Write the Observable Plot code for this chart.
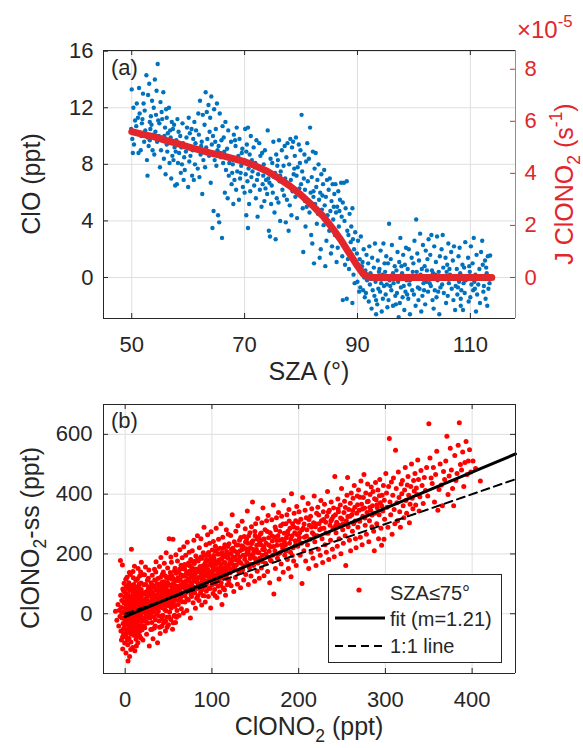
<!DOCTYPE html>
<html>
<head>
<meta charset="utf-8">
<script src="https://cdn.jsdelivr.net/npm/d3@7"></script>
<script src="https://cdn.jsdelivr.net/npm/@observablehq/plot@0.6"></script>
<style>
  html,body{margin:0;padding:0;background:#fff;}
  #chart{position:relative;width:583px;height:748px;}
  #chart svg{display:block;}
  #chart .overlay{position:absolute;left:0;top:0;}
</style>
</head>
<body>
<div id="chart"></div>
<script>
// ================= Panel (a): ClO vs SZA, J(ClONO2) on right axis =================
const szaTicks = [50, 70, 90, 110];
const cloTicks = [0, 4, 8, 12, 16];
const jTicks = [0, 2, 4, 6, 8];
const szaDomain = [45, 118];
const cloDomain = [-2.9, 16.05];
const jDomain = [-1.576, 8.72];

// [SZA (deg), ClO (ppt)]
const panelA = [
[49.9,10.5],[50.1,9.8],[50.0,13.3],[50.3,12.0],[50.2,8.8],[50.6,11.1],[50.4,9.4],[50.8,10.7],[51.1,11.3],[50.9,12.3],
[51.2,8.8],[51.0,10.2],[51.3,13.4],[51.6,9.0],[51.4,11.6],[51.8,10.9],[52.1,12.3],[51.9,11.2],[52.2,9.6],[52.0,13.0],
[52.4,10.4],[52.6,14.3],[52.3,11.8],[52.7,8.3],[52.5,10.1],[53.1,13.7],[52.9,12.9],[53.2,11.0],[53.0,9.3],[53.3,10.5],
[52.8,7.2],[53.6,12.5],[53.4,11.4],[53.7,9.0],[53.5,10.8],[54.1,14.0],[53.9,12.0],[54.2,10.3],[54.0,8.7],[54.3,11.5],
[54.6,15.1],[54.4,13.2],[54.7,11.1],[54.5,9.6],[55.1,12.4],[54.9,10.9],[55.2,9.0],[55.0,7.8],[55.3,11.7],[55.6,13.1],
[55.4,11.2],[55.7,8.4],[55.8,10.0],[56.1,11.9],[55.9,10.6],[56.2,9.4],[56.0,7.3],[56.3,8.9],[56.6,12.0],[56.4,10.2],
[56.7,8.1],[56.5,9.5],[57.1,11.0],[56.9,9.9],[57.2,8.6],[57.0,7.0],[57.3,10.5],[57.6,9.2],[57.4,8.3],[57.7,6.5],
[57.5,10.8],[58.1,11.2],[57.9,9.7],[58.2,8.1],[58.0,6.6],[58.3,10.3],[58.6,10.0],[58.4,8.8],[58.7,7.4],[59.1,9.5],
[58.9,8.0],[59.2,6.9],[59.0,10.9],[59.6,8.9],[59.4,7.6],[59.7,9.9],[60.1,11.3],[59.9,9.3],[60.2,8.2],[60.0,6.4],
[60.3,10.2],[60.6,10.5],[60.4,8.6],[60.7,7.2],[61.1,11.0],[60.9,9.8],[61.2,8.0],[61.0,6.9],[61.6,9.1],[61.4,10.4],
[61.7,7.7],[62.1,12.5],[61.9,10.1],[62.2,8.7],[62.0,7.1],[62.6,11.5],[62.4,9.6],[62.7,8.3],[62.5,5.9],[63.1,13.1],
[62.9,10.8],[63.2,9.2],[63.0,7.8],[63.6,12.2],[63.4,9.8],[63.7,8.6],[64.1,12.8],[63.9,11.3],[64.2,9.4],[64.0,6.7],
[64.3,3.5],[64.6,11.9],[64.4,10.0],[64.7,8.3],[64.5,4.7],[65.1,12.3],[64.9,10.5],[65.2,9.0],[65.0,7.9],[65.3,4.4],
[65.6,11.6],[65.4,9.3],[65.7,8.8],[65.5,3.9],[66.1,10.7],[65.9,9.7],[66.2,8.1],[66.0,2.8],[66.6,11.0],[66.4,8.9],
[66.7,7.6],[66.5,6.0],[67.1,10.4],[66.9,9.1],[67.2,7.2],[67.0,5.6],[67.6,9.6],[67.4,8.4],[67.7,6.6],[68.1,10.1],
[67.9,8.0],[68.2,6.9],[68.0,5.2],[68.6,10.6],[68.4,9.3],[68.7,7.5],[68.5,6.2],[69.1,9.8],[68.9,8.6],[69.2,7.0],
[69.0,5.5],[69.6,9.1],[69.4,7.9],[69.7,6.4],[69.5,8.8],
[70.1,10.5],[69.9,8.3],[70.2,7.3],[70.0,6.0],[70.3,4.4],[70.6,10.6],[70.4,9.4],[70.7,7.7],[70.5,6.8],[70.8,5.2],
[70.6,3.5],[71.1,10.0],[70.9,8.7],[71.2,7.1],[71.0,6.1],[71.6,9.2],[71.4,7.5],[71.7,6.5],[72.1,9.7],[71.9,8.1],
[72.2,6.9],[72.0,5.6],[72.3,4.3],[72.6,9.5],[72.4,7.3],[72.7,6.2],[73.1,8.8],[72.9,7.7],[73.2,6.6],[73.0,5.0],
[73.6,9.0],[73.4,8.0],[73.7,6.3],[73.5,5.4],[74.1,10.4],[73.9,7.6],[74.2,7.0],[74.0,5.9],[74.3,3.3],[74.6,8.4],
[74.4,6.7],[74.7,5.2],[74.5,2.9],[75.1,9.6],[74.9,8.1],[75.2,7.1],[75.0,6.0],[75.3,4.6],[75.6,8.7],[75.4,7.4],
[75.7,5.6],[75.5,2.7],[76.1,9.7],[75.9,8.3],[76.2,6.8],[76.0,5.3],[76.3,4.0],[76.6,9.0],[76.4,7.5],[76.7,6.2],
[77.1,9.3],[76.9,7.9],[77.2,7.0],[77.0,5.8],[77.3,3.9],[77.6,9.5],[77.4,8.5],[77.7,6.5],[77.5,5.5],[77.8,3.3],
[78.1,9.8],[77.9,8.0],[78.2,6.9],[78.0,5.1],[78.3,4.4],[78.6,9.6],[78.4,9.2],[78.7,7.3],[78.5,6.1],[79.1,9.9],
[78.9,8.6],[79.2,7.2],[79.0,5.7],[79.3,4.2],[79.6,9.4],[79.4,7.8],[79.7,6.3],
[80.1,11.5],[79.9,9.0],[80.2,7.5],[80.0,6.6],[80.3,4.9],[80.4,1.8],[80.6,8.7],[80.5,7.0],[80.7,5.4],[80.8,3.6],
[81.1,9.5],[80.9,8.2],[81.2,6.8],[81.0,5.0],[81.6,10.6],[81.4,8.4],[81.7,6.0],[81.5,4.6],[81.8,3.0],[82.1,8.9],
[81.9,7.1],[82.2,5.7],[82.0,2.4],[82.3,1.0],[82.6,8.8],[82.4,7.7],[82.7,6.4],[82.5,5.2],[82.8,3.8],[83.1,8.0],
[82.9,6.9],[83.2,5.5],[83.0,4.5],[83.3,1.4],[83.6,7.3],[83.4,6.0],[83.7,4.8],[83.5,2.0],[84.1,7.6],[83.9,6.6],
[84.2,5.1],[84.0,3.7],[84.3,0.8],[84.6,6.9],[84.4,5.7],[84.7,4.4],[84.5,2.6],[85.1,7.0],[84.9,6.2],[85.2,4.7],
[85.0,3.3],[85.3,1.7],[85.6,6.6],[85.4,5.4],[85.7,4.1],[85.5,2.2],[86.1,6.6],[85.9,5.9],[86.2,4.6],[86.0,3.0],
[86.3,1.1],[86.6,6.1],[86.4,5.0],[86.7,3.6],[86.5,2.1],[87.1,6.7],[86.9,5.5],[87.2,4.3],[87.0,2.8],[87.3,1.5],
[87.6,6.7],[87.4,5.3],[87.7,4.0],[87.5,2.5],[87.8,0.9],[87.4,-1.6],[88.1,6.8],[87.9,4.9],[88.2,3.3],[88.0,2.2],
[88.3,1.3],[88.1,-1.5],[88.6,4.5],[88.4,3.0],[88.7,1.8],[88.5,0.6],[89.1,4.9],[88.9,3.6],[89.2,2.7],[89.0,1.6],
[89.3,0.2],[89.1,-1.8],[89.6,3.2],[89.4,2.0],[89.7,1.1],[89.5,-0.4],
[90.1,2.6],[89.9,1.7],[90.2,0.9],[90.0,-0.3],[90.3,-1.0],[90.6,2.9],[90.4,1.3],[90.7,0.4],[90.5,-0.7],[91.1,2.0],
[90.9,1.1],[91.2,0.0],[91.0,-0.9],[91.3,-1.4],[91.6,1.6],[91.4,0.5],[91.7,-0.2],[91.5,-1.1],
[92.1,2.2],[91.9,1.0],[92.2,-0.5],[92.0,-1.7],[92.3,0.3],[92.6,1.4],[92.4,-0.1],[92.7,-0.9],[92.5,-2.2],[93.1,2.4],
[92.9,0.7],[93.2,-0.3],[93.0,-1.3],[93.3,-2.6],[93.6,1.2],[93.4,0.0],[93.7,-0.8],[93.5,-1.9],[94.1,1.9],[93.9,0.6],
[94.2,-0.4],[94.0,-1.0],[94.3,-2.4],[94.6,2.4],[94.4,0.2],[94.7,-0.6],[94.5,-1.5],[95.1,1.5],[94.9,0.4],[95.2,-0.5],
[95.0,-1.2],[95.3,-2.1],[95.6,3.8],[95.4,1.0],[95.7,-0.2],[95.5,-1.6],[96.1,2.3],[95.9,1.3],[96.2,0.1],[96.0,-0.9],
[96.3,-2.0],[96.6,0.8],[96.4,-0.4],[96.7,-1.3],[97.1,1.8],[96.9,0.5],[97.2,-0.3],[97.0,-1.1],[97.3,-2.8],[97.6,2.8],
[97.4,1.1],[97.7,-0.7],[97.5,-1.8],[98.1,1.6],[97.9,0.3],[98.2,-0.6],[98.0,-1.4],[98.3,-2.3],[98.6,2.1],[98.4,0.9],
[98.7,-0.2],[98.5,-1.0],[99.1,2.0],[98.9,0.6],[99.2,-0.5],[99.0,-1.5],[99.3,-2.6],[99.6,1.4],[99.4,0.1],[99.7,-0.9],
[100.1,2.6],[99.9,1.0],[100.2,-0.1],[100.0,-1.2],[100.3,-2.0],[100.4,4.1],[100.6,1.7],[100.5,0.4],[100.7,-0.7],[100.8,-1.6],
[101.1,3.1],[100.9,1.2],[101.2,0.2],[101.0,-0.8],[101.3,-2.4],[101.6,2.3],[101.4,0.6],[101.7,-0.4],[101.5,-1.3],[102.1,1.9],
[101.9,0.8],[102.2,-0.3],[102.0,-1.9],[102.6,2.7],[102.4,1.3],[102.7,0.0],[102.5,-1.0],[103.1,3.0],[102.9,1.6],[103.2,0.5],
[103.0,-0.6],[103.3,-1.6],[103.6,2.2],[103.4,0.3],[103.7,-0.9],[103.5,-2.2],[104.1,2.9],[103.9,1.1],[104.2,-0.2],[104.0,-1.4],
[104.6,1.5],[104.4,0.4],[104.7,-0.7],[104.5,-2.6],[105.1,3.0],[104.9,2.0],[105.2,0.7],[105.0,-0.5],[105.3,-1.1],[105.6,1.4],
[105.4,-0.1],[105.7,-1.8],[106.1,2.4],[105.9,0.9],[106.2,-0.4],[106.0,-1.3],[106.6,1.8],[106.4,0.2],[106.7,-0.8],[107.1,2.2],
[106.9,1.2],[107.2,0.0],[107.0,-1.6],[107.3,-2.3],[107.6,0.6],[107.4,-0.6],[107.7,-1.2],[108.1,2.1],[107.9,1.5],[108.2,0.3],
[108.0,-0.3],[108.3,-2.0],[108.6,0.9],[108.4,-0.9],[108.7,-2.3],[109.1,2.5],[108.9,0.7],[109.2,-0.2],[109.0,-1.1],[109.6,1.4],
[109.4,0.1],[109.7,-1.7],[110.1,2.2],[109.9,0.4],[110.2,-0.5],[110.0,-1.4],[110.6,2.8],[110.4,1.0],[110.7,-0.3],[110.5,-0.9],
[111.1,1.6],[110.9,0.2],[111.2,-1.2],[111.0,-2.4],[111.6,0.6],[111.4,-0.5],[111.7,-1.8],[112.1,2.6],[111.9,1.8],[112.2,0.9],
[112.0,-0.1],[112.3,-1.0],[112.6,1.2],[112.4,-0.6],[112.7,-1.5],[113.1,1.5],[112.9,0.3],[113.2,-0.8],[113.0,-2.0],[113.5,1.55],[113.4,-0.4],
[51.7,10.0],[52.8,9.9],[53.8,10.1],[55.4,9.9],[56.8,10.4],[58.8,9.2],[60.8,9.0],[62.3,9.3],[63.8,10.3],[65.8,8.5],
[67.3,8.1],[69.3,7.4],[71.8,7.8],[73.3,7.2],[74.8,6.5],[76.8,6.9],[78.8,7.7],[80.7,6.2],[83.8,5.8],[86.8,4.7],
[93.8,0.4],[95.8,-0.6],[97.8,0.8],[99.8,0.4],[101.8,-0.9],[103.8,0.2],[105.8,0.4],[107.8,-0.7],[109.8,0.8],[111.8,0.0],
[94.8,1.0],[96.8,-1.9],[98.8,-1.2],[102.3,0.5],[104.3,-1.0],[106.3,0.6],[108.8,-0.4],[110.8,-0.8],[112.8,0.7],[91.8,0.2],
[54.8,10.0],[57.8,8.9],[59.8,10.6],[61.8,11.6],[63.3,11.7],[66.3,9.9],[68.3,9.7],[70.3,8.9],[72.8,8.6],[75.8,7.9],
[53.2,9.7],[56.2,11.3],[59.3,8.5],[61.3,9.5],[64.8,9.6],[67.8,7.4],[71.3,8.3],[73.8,6.9],[76.3,7.2],[79.8,8.1],
[82.2,6.1],[85.8,5.0],[88.8,2.5],[90.8,0.8],[93.3,-1.6],[96.3,0.3],[99.3,-0.2],[102.8,-0.4],[105.3,0.1],[108.3,-1.5]
];

// J(ClONO2) photolysis rate, units of 1e-5 s^-1
const jSza    = [50, 52, 54, 56, 58, 60, 62, 64, 66, 68, 70, 72, 74, 76, 78, 80, 82, 84, 86, 87, 88, 89, 90, 91, 92, 93, 100, 110, 113.8];
const jValues = [5.6, 5.5, 5.4, 5.27, 5.15, 5.02, 4.9, 4.78, 4.68, 4.57, 4.45, 4.28, 4.08, 3.82, 3.52, 3.17, 2.77, 2.33, 1.77, 1.46, 1.12, 0.78, 0.44, 0.14, 0.02, 0, 0, 0, 0];

// ================= Panel (b): ClONO2-ss vs ClONO2 =================
const clono2Ticks = [0, 100, 200, 300, 400];
const ssTicks = [0, 200, 400, 600];
const clono2Domain = [-25, 450];
const ssDomain = [-200, 700];
const fitSlope = 1.21;
const fitIntercept = -10;
const lineRange = [0, 450];

// [ClONO2 (ppt), ClONO2-ss (ppt)], SZA <= 75
const panelB = [
[-11.2,8],[-9.6,-22],[-8.3,31],[-7.4,-41],[-6.8,12],[-6.1,-9],[-5.5,178],[-5.2,62],[-4.9,-58],[-4.6,21],
[-4.3,-88],[-3.9,44],[-3.6,-14],[-3.2,163],[-2.9,-118],[-2.7,83],[-2.4,-33],[-2.1,5],[-1.8,-68],[-1.5,36],
[-1.3,102],[-1.0,-47],[-0.8,57],[-0.6,-98],[-0.3,18],[-0.1,-22],[0.2,71],[0.4,-78],[0.6,-4],[0.9,-131],
[1.1,93],[1.3,27],[1.5,-55],[1.8,46],[2.0,-12],[2.2,122],[2.5,-35],[2.7,9],[2.9,-104],[3.1,64],
[3.3,-158],[3.5,-61],[3.8,33],[4.0,-19],[4.2,104],[4.4,-82],[4.7,51],[4.9,-3],[5.1,-143],[5.3,78],
[5.6,-41],[5.8,16],[6.0,131],[6.2,-67],[6.5,39],[6.7,-95],[6.9,-9],[7.2,216],[7.4,58],[7.6,-27],
[7.9,85],[8.1,-49],[8.3,12],[8.6,-113],[8.8,67],[9.0,141],[9.3,-16],[9.5,29],[9.7,-72],[10.0,98],
[10.2,-38],[10.4,3],[10.7,159],[10.9,47],[11.1,-124],[11.4,-57],[11.6,74],[11.8,19],[12.1,-8],[12.3,111],
[12.5,-85],[12.8,36],[13.0,-31],[13.2,89],[13.5,6],[13.7,-66],[13.9,52],[14.2,117],[14.4,-21],[14.6,-97],
[14.9,151],[15.1,69],[15.3,13],[15.6,-48],[15.8,92],[16.0,-6],[16.3,41],[16.5,-73],[16.7,126],[17.0,24],
[17.2,-39],[17.4,79],[17.7,-12],[17.9,56],[18.1,-81],[18.4,103],[18.6,172],[18.8,33],[19.1,-26],[19.3,64],
[19.5,-54],[19.8,8],[20.0,131],
[-4.0,3],[-2.2,-52],[-1.6,75],[-0.4,38],[0.0,-36],[0.5,8],[1.0,-68],[1.6,60],[2.3,-2],[2.8,84],
[3.4,-28],[3.9,16],[4.5,-49],[5.0,42],[5.5,-15],[6.1,95],[6.6,-36],[7.0,25],[7.5,-60],[8.0,47],
[8.5,-2],[9.1,81],[9.6,-44],[10.1,22],[10.6,-71],[11.2,60],[11.7,-18],[12.2,85],[12.7,-50],[13.3,31],
[13.8,-10],[14.3,72],[14.8,-40],[15.4,45],[15.9,-23],[16.4,100],[16.9,-58],[17.5,37],[18.0,-4],[18.5,81],
[19.0,-44],[19.6,48],[0.7,115],[2.6,-88],[4.8,138],[6.4,-120],[9.4,120],[12.9,-108],[15.0,-75],[17.8,140],
[-3.0,-78],[-1.1,-14],[1.9,20],[3.6,52],[5.9,-25],[8.9,-30],[11.0,36],[13.6,60],[16.2,15],[19.9,-15],
[1.4,-18],[2.1,38],[3.7,-8],[4.6,22],[5.7,-30],[6.8,48],[7.7,3],[8.7,-21],[9.8,32],[10.8,-6],
[11.9,55],[12.6,10],[13.4,-22],[14.5,40],[15.5,1],[16.6,58],[17.3,-13],[18.3,26],[19.2,68],[20.6,5],
[20.4,-88],[20.8,44],[21.3,-18],[21.7,97],[22.1,11],[22.6,-47],[23.0,72],[23.4,156],[23.9,-6],[24.3,51],
[24.7,-69],[25.2,28],[25.6,112],[26.0,-31],[26.5,83],[26.9,2],[27.3,146],[27.8,-108],[28.2,39],[28.6,-14],
[29.1,66],[29.5,-53],[29.9,104],[30.4,18],[30.8,-29],[31.2,129],[31.7,57],[32.1,-84],[32.5,34],[33.0,91],
[33.4,-11],[33.8,149],[34.3,62],[34.7,-41],[35.1,23],[35.6,174],[36.0,79],[36.4,-2],[36.9,44],[37.3,-97],
[37.7,118],[38.2,8],[38.6,69],[39.0,-24],[39.5,158],[39.9,36],[40.3,-66],[40.8,95],[41.2,188],[41.6,21],
[42.1,-42],[42.5,73],[42.9,132],[43.4,-5],[43.8,52],[44.2,-31],[44.7,107],[45.1,169],[45.5,14],[46.0,84],
[46.4,-58],[46.8,41],[47.3,204],[47.7,121],[48.1,-12],[48.6,63],[49.0,153],[49.4,27],[49.9,-37],[50.3,98],
[50.7,251],[51.2,6],[51.6,76],[52.0,138],[52.5,-19],[52.9,47],[53.3,172],[53.8,89],[54.2,31],[54.6,-52],
[55.1,249],[55.5,118],[55.9,61],[56.4,-8],[56.8,143],[57.2,24],[57.7,92],[58.1,-29],[58.5,197],[59.0,67],
[59.4,112],[59.8,11],
[20.2,18],[21.0,65],[21.9,-40],[22.8,36],[23.6,98],[24.5,7],[25.4,58],[26.2,-12],[27.1,90],[28.0,22],
[28.8,71],[29.7,-5],[30.6,49],[31.5,95],[32.3,6],[33.2,57],[34.0,113],[34.9,-20],[35.8,44],[36.6,101],
[37.5,30],[38.4,86],[39.2,-8],[40.1,62],[40.9,122],[41.8,48],[42.7,-17],[43.6,91],[44.4,34],[45.3,67],
[46.2,127],[47.0,10],[47.9,79],[48.8,104],[49.6,50],[50.5,-10],[51.4,124],[52.2,72],[53.1,19],[54.0,115],
[54.9,81],[55.7,33],[56.6,98],[57.5,152],[58.3,45],[59.2,-12],[22.3,130],[26.7,119],[31.0,-52],[35.3,140],
[39.7,-45],[44.0,140],[48.3,-45],[52.7,190],[57.0,-5],[24.0,-25],[29.3,34],[33.6,-48],[38.0,52],[42.3,105],
[46.6,-25],[50.9,40],[55.3,-30],[59.6,85],
[21.5,47],[22.5,-14],[23.3,30],[24.2,73],[25.0,14],[25.9,42],[26.8,-5],[27.6,61],[28.5,30],[29.4,84],
[30.2,8],[31.1,41],[32.0,72],[32.8,22],[33.7,88],[34.6,35],[35.4,60],[36.3,14],[37.2,78],[38.0,40],
[38.9,98],[39.8,25],[40.6,55],[41.5,82],[42.4,30],[43.2,68],[44.1,102],[45.0,47],[45.8,76],[46.7,28],
[47.6,92],[48.4,58],[49.3,118],[50.2,70],[51.0,34],[51.9,95],[52.8,58],[53.6,128],[54.5,66],[55.4,100],
[56.2,45],[57.1,112],[58.0,78],[58.8,135],[59.7,60],
[60.3,176],[60.8,92],[61.2,31],[61.7,141],[62.1,-6],[62.6,78],[63.0,214],[63.5,113],[63.9,54],[64.4,162],
[64.8,17],[65.3,97],[65.7,187],[66.2,66],[66.6,128],[67.1,2],[67.5,224],[68.0,87],[68.4,151],[68.9,39],
[69.3,108],[69.8,196],[70.2,71],[70.7,133],[71.1,11],[71.6,239],[72.0,94],[72.5,163],[72.9,46],[73.4,117],
[73.8,206],[74.3,79],[74.7,143],[75.2,-14],[75.6,181],[76.1,102],[76.5,58],[77.0,154],[77.4,211],[77.9,124],
[78.3,37],[78.8,89],[79.2,246],[79.7,168],[80.1,69],[80.6,132],[81.0,18],[81.5,193],[81.9,107],[82.4,52],
[82.8,149],[83.3,261],[83.7,84],[84.2,176],[84.6,121],[85.1,44],[85.5,221],[86.0,98],[86.4,158],[86.9,71],
[87.3,251],[87.8,134],[88.2,29],[88.7,186],[89.1,112],[89.6,61],[90.0,204],[90.5,143],[90.9,289],[91.4,91],
[91.8,166],[92.3,39],[92.7,127],[93.2,231],[93.6,76],[94.1,181],[94.5,108],[95.0,264],[95.4,147],[95.9,58],
[96.3,196],[96.8,121],[97.2,236],[97.7,84],[98.1,162],[98.6,19],[99.0,274],[99.5,137],[99.9,96],[100.4,213],
[100.8,157],[101.3,68],[101.7,242],[102.2,119],[102.6,184],[103.1,81],[103.5,147],[104.0,226],[104.4,102],[104.9,286],
[105.3,171],[105.8,54],[106.2,131],[106.7,199],[107.1,92],[107.6,249],[108.0,151],[108.5,118],[108.9,73],[109.4,219],
[109.8,166],[110.3,301],[110.7,104],[111.2,183],[111.6,31],[112.1,139],[112.5,256],[113.0,86],[113.4,196],[113.9,154],
[114.3,123],[114.8,231],[115.2,171],[115.7,62],[116.1,141],[116.6,281],[117.0,208],[117.5,97],[117.9,189],[118.4,152],
[118.8,266],[119.3,114],[119.7,234],
[60.5,60],[61.4,110],[62.3,45],[63.2,85],[64.1,130],[65.0,70],[65.9,40],[66.8,100],[67.7,150],[68.6,60],
[69.5,125],[70.4,95],[71.3,50],[72.2,140],[73.1,80],[74.0,110],[74.9,160],[75.8,65],[76.7,130],[77.6,90],
[78.5,145],[79.4,110],[80.3,175],[81.2,85],[82.1,140],[83.0,115],[83.9,60],[84.8,150],[85.7,100],[86.6,185],
[87.5,120],[88.4,80],[89.3,160],[90.2,115],[91.1,60],[92.0,145],[92.9,175],[93.8,100],[94.7,130],[95.6,200],
[96.5,85],[97.4,165],[98.3,125],[99.2,185],[100.1,110],[101.0,145],[101.9,195],[102.8,100],[103.7,60],[104.6,165],
[105.5,130],[106.4,215],[107.3,115],[108.2,180],[109.1,140],[110.0,95],[110.9,155],[111.8,205],[112.7,120],[113.6,170],
[114.5,80],[115.4,145],[116.3,190],[117.2,130],[118.1,225],[119.0,160],[119.9,100],
[60.9,120],[62.0,85],[63.1,150],[64.2,95],[65.3,60],[66.4,125],[67.5,105],[68.6,165],[69.7,80],[70.8,140],
[71.9,112],[73.0,170],[74.1,90],[75.2,130],[76.3,100],[77.4,175],[78.5,120],[79.6,75],[80.7,150],[81.8,118],
[82.9,180],[84.0,100],[85.1,140],[86.2,120],[87.3,190],[88.4,105],[89.5,150],[90.6,128],[91.7,195],[92.8,110],
[93.9,160],[95.0,135],[96.1,205],[97.2,120],[98.3,175],[99.4,140],[100.5,100],[101.6,170],[102.7,130],[103.8,210],
[104.9,150],[106.0,110],[107.1,175],[108.2,140],[109.3,200],[110.4,125],[111.5,185],[112.6,150],[113.7,220],[114.8,135],
[115.9,195],[117.0,160],[118.1,115],[119.2,185],
[120.4,201],[121.0,137],[121.6,262],[122.2,94],[122.8,176],[123.4,331],[124.0,219],[124.6,151],[125.2,74],[125.8,241],
[126.4,189],[127.0,121],[127.6,276],[128.2,163],[128.8,206],[129.4,99],[130.0,294],[130.6,178],[131.2,138],[131.8,246],
[132.4,211],[133.0,87],[133.6,169],[134.2,227],[134.8,309],[135.4,147],[136.0,196],[136.6,113],[137.2,258],[137.8,182],
[138.4,284],[139.0,131],[139.6,217],[140.2,171],[140.8,344],[141.4,236],[142.0,98],[142.6,198],[143.2,154],[143.8,271],
[144.4,221],[145.0,126],[145.6,291],[146.2,189],[146.8,374],[147.4,244],[148.0,161],[148.6,208],[149.2,109],[149.8,261],
[150.4,301],[151.0,178],[151.6,229],[152.2,142],[152.8,319],[153.4,204],[154.0,256],[154.6,119],[155.2,186],[155.8,266],
[156.4,231],[157.0,153],[157.6,304],[158.2,196],[158.8,354],[159.4,249],[160.0,127],[160.6,214],[161.2,281],[161.8,169],
[162.4,236],[163.0,311],[163.6,191],[164.2,141],[164.8,329],[165.4,254],[166.0,209],[166.6,104],[167.2,271],[167.8,224],
[168.4,176],[169.0,314],[169.6,243],[170.2,196],[170.8,364],[171.4,66],[172.0,257],[172.6,211],[173.2,151],[173.8,281],
[174.4,321],[175.0,229],[175.6,186],[176.2,261],[176.8,339],[177.4,116],[178.0,246],[178.6,204],[179.2,294],[179.8,166],
[180.4,326],[181.0,249],[181.6,219],[182.2,139],[182.8,379],[183.4,269],[184.0,196],[184.6,229],[185.2,301],[185.8,254],
[186.4,331],[187.0,181],[187.6,276],[188.2,151],[188.8,349],[189.4,236],[190.0,286],[190.6,206],[191.2,124],[191.8,401],
[192.4,261],[193.0,301],[193.6,221],[194.2,176],[194.8,336],[195.4,271],[196.0,244],[196.6,311],[197.2,161],[197.8,359],
[198.4,286],[199.0,226],[199.6,306],
[120.7,170],[122.5,215],[124.3,190],[126.1,155],[127.9,230],[129.7,200],[131.5,175],[133.3,255],[135.1,215],[136.9,160],
[138.7,240],[140.5,205],[142.3,260],[144.1,185],[145.9,235],[147.7,200],[149.5,275],[151.3,215],[153.1,170],[154.9,240],
[156.7,270],[158.5,215],[160.3,250],[162.1,200],[163.9,275],[165.7,230],[167.5,180],[169.3,260],[171.1,225],[172.9,290],
[174.7,245],[176.5,200],[178.3,275],[180.1,230],[181.9,300],[183.7,240],[185.5,210],[187.3,265],[189.1,310],[190.9,250],
[192.7,195],[194.5,290],[196.3,230],[198.1,265],[199.9,245],
[120.3,150],[122.0,200],[124.0,165],[126.0,210],[128.0,180],[130.0,230],[132.0,190],[134.0,150],[136.0,225],[138.0,195],
[140.0,250],[142.0,210],[144.0,165],[146.0,240],[148.0,215],[150.0,185],[152.0,250],[154.0,205],[156.0,245],[158.0,175],[160.0,225],
[200.4,341],[201.1,271],[201.8,196],[202.5,316],[203.2,236],[203.9,101],[204.6,389],[205.3,286],[206.0,211],[206.7,256],
[207.4,346],[208.1,176],[208.8,321],[209.5,281],[210.2,231],[210.9,369],[211.6,151],[212.3,296],[213.0,249],[213.7,326],
[214.4,206],[215.1,351],[215.8,271],[216.5,186],[217.2,304],[217.9,394],[218.6,241],[219.3,291],[220.0,161],[220.7,336],
[221.4,261],[222.1,356],[222.8,216],[223.5,301],[224.2,281],[224.9,196],[225.6,379],[226.3,311],[227.0,251],[227.7,171],
[228.4,341],[229.1,286],[229.8,366],[230.5,231],[231.2,306],[231.9,206],[232.6,326],[233.3,409],[234.0,269],[234.7,181],
[235.4,346],[236.1,296],[236.8,246],[237.5,374],[238.2,316],[238.9,216],[239.6,286],[240.3,354],[241.0,191],[241.7,459],
[242.4,331],[243.1,271],[243.8,306],[244.5,226],[245.2,384],[245.9,341],[246.6,251],[247.3,296],[248.0,364],[248.7,201],
[249.4,419],[250.1,316],[250.8,281],[251.5,236],[252.2,339],[252.9,376],[253.6,261],[254.3,161],[255.0,311],[255.7,396],
[256.4,456],[257.1,291],[257.8,349],[258.5,246],[259.2,326],[259.9,211],[260.6,404],[261.3,331],[262.0,276],[262.7,386],
[263.4,301],[264.1,429],[264.8,356],[265.5,251],[266.2,221],[266.9,336],[267.6,394],[268.3,289],[269.0,414],[269.7,346],
[270.4,309],[271.1,256],[271.8,444],[272.5,366],[273.2,231],[273.9,326],[274.6,389],[275.3,466],[276.0,354],[276.7,296],
[277.4,404],[278.1,266],[278.8,339],[279.5,434],[280.2,376],[280.9,241],[281.6,311],[282.3,399],[283.0,346],[283.7,424],
[284.4,291],[285.1,361],[285.8,409],[286.5,276],[287.2,211],[287.9,336],[288.6,439],[289.3,381],[290.0,301],[290.7,354],
[291.4,414],[292.1,251],[292.8,331],[293.5,449],[294.2,371],[294.9,286],[295.6,229],[296.3,396],[297.0,344],[297.7,429],
[298.4,249],[299.1,316],
[200.9,255],[203.6,280],[206.3,300],[209.0,260],[211.9,315],[214.7,290],[217.5,265],[220.3,300],[223.1,330],[225.9,285],
[228.7,315],[231.5,270],[234.3,340],[237.1,310],[239.9,325],[242.7,295],[245.5,350],[248.3,320],[251.1,300],[253.9,355],
[256.7,325],[259.5,370],[262.3,345],[265.1,310],[267.9,365],[270.7,390],[273.5,350],[276.3,320],[279.1,375],[281.9,355],
[284.7,330],[287.5,385],[290.3,365],[293.1,395],[295.9,360],[298.7,380],
[300.5,469],[301.3,404],[302.1,356],[302.9,289],[303.7,426],[304.5,586],[305.3,374],[306.1,331],[306.9,441],[307.7,266],
[308.5,396],[309.3,454],[310.1,349],[310.9,301],[311.7,547],[312.5,419],[313.3,371],[314.1,311],[314.9,474],[315.7,389],
[316.5,341],[317.3,289],[318.1,434],[318.9,401],[319.7,446],[320.5,361],[321.3,321],[322.1,414],[322.9,489],[323.7,379],
[324.5,336],[325.3,431],[326.1,459],[326.9,396],[327.7,304],[328.5,366],[329.3,426],[330.1,501],[330.9,386],[331.7,351],
[332.5,446],[333.3,411],[334.1,469],[334.9,364],[335.7,421],[336.5,399],[337.3,514],[338.1,449],[338.9,344],[339.7,391],
[341.0,479],[342.3,429],[343.6,369],[344.9,456],[346.2,412],[347.5,489],[348.8,394],[350.1,636],[351.4,521],[352.7,454],
[354.0,436],[355.3,489],[356.6,374],[357.9,466],[359.2,544],[360.5,346],[361.8,416],[363.1,501],[364.4,431],[365.7,361],
[367.0,476],[368.3,449],[369.6,511],[370.9,594],[372.2,399],[373.5,461],[374.8,554],[376.1,481],[377.4,419],[378.7,361],
[380.0,529],[381.3,446],[382.6,469],[383.9,564],[385.2,639],[386.5,499],[387.8,481],[389.1,541],[390.4,426],[391.7,506],
[393.0,576],[394.3,466],[395.6,511],[397.0,549],[398.5,474],[401.0,511],[404.0,486],[409.5,444]
];

// ================= Rendering =================
const FONT = '"Liberation Sans", Arial, Helvetica, sans-serif';
const INK = "#262626";
const RED = "#e2262b";
const GRID = "#dfdfdf";
const TK = 5;
const TICK_FS = 22;

const ptsA = panelA.map(([s, c]) => ({sza: s, clo: c}));
const jLine = jSza.map((s, i) => ({sza: s, j: jValues[i]}));
const ptsB = panelB.map(([x, y]) => ({x, y}));
const fitLine = lineRange.map(x => ({x, y: fitSlope * x + fitIntercept}));
const oneLine = lineRange.map(x => ({x, y: x}));

const W = 583;
const A = {h: 390, top: 50, bottom: 72, left: 103, right: 68};
const B = {h: 358, top: 14, bottom: 75, left: 103, right: 68};
const pw = W - A.left - A.right;
const phA = A.h - A.top - A.bottom;
const phB = B.h - B.top - B.bottom;

const baseStyle = {fontFamily: FONT, fontSize: TICK_FS + "px", color: INK, overflow: "visible"};

function xTicks(ticks, ph, stroke) {
  return [Plot.tickX(ticks, {stroke, insetTop: ph - TK}), Plot.tickX(ticks, {stroke, insetBottom: ph - TK})];
}
function yTicksLeft(ticks, stroke) { return Plot.tickY(ticks, {stroke, insetRight: pw - TK}); }
function yTicksRight(ticks, stroke) { return Plot.tickY(ticks, {stroke, insetLeft: pw - TK}); }

// ---- Panel (a) base ----
const svgA = Plot.plot({
  width: W, height: A.h,
  marginTop: A.top, marginBottom: A.bottom, marginLeft: A.left, marginRight: A.right,
  style: {...baseStyle, background: "#fff"},
  x: {domain: szaDomain, label: null},
  y: {domain: cloDomain, label: null},
  marks: [
    Plot.gridX(szaTicks, {stroke: GRID, strokeOpacity: 1}),
    Plot.gridY(cloTicks, {stroke: GRID, strokeOpacity: 1}),
    Plot.dot(ptsA, {x: "sza", y: "clo", r: 2.2, fill: "#0072BD", stroke: null}),
    Plot.ruleX([szaDomain[0]], {stroke: INK}),
    Plot.ruleY(cloDomain, {stroke: INK}),
    ...xTicks(szaTicks, phA, INK),
    yTicksLeft(cloTicks, INK),
    Plot.axisX({ticks: szaTicks, tickSize: 0, tickPadding: 18, fontSize: TICK_FS, fill: INK, label: null}),
    Plot.axisY({ticks: cloTicks, tickSize: 0, tickPadding: 10, fontSize: TICK_FS, fill: INK, label: null})
  ]
});

// ---- Panel (a) overlay: J(ClONO2), right axis ----
const svgJ = Plot.plot({
  width: W, height: A.h,
  marginTop: A.top, marginBottom: A.bottom, marginLeft: A.left, marginRight: A.right,
  style: {...baseStyle, background: "transparent"},
  x: {domain: szaDomain, axis: null},
  y: {domain: jDomain, label: null},
  marks: [
    Plot.line(jLine, {x: "sza", y: "j", stroke: RED, strokeWidth: 7, strokeLinecap: "round", strokeLinejoin: "round"}),
    Plot.ruleX([szaDomain[1]], {stroke: RED, strokeOpacity: 0.7}),
    yTicksRight(jTicks, RED),
    Plot.axisY({anchor: "right", ticks: jTicks, tickSize: 0, tickPadding: 9, fontSize: TICK_FS, fill: RED, label: null})
  ]
});
svgJ.classList.add("overlay");

// ---- Panel (b) ----
const svgB = Plot.plot({
  width: W, height: B.h,
  marginTop: B.top, marginBottom: B.bottom, marginLeft: B.left, marginRight: B.right,
  style: {...baseStyle, background: "#fff"},
  x: {domain: clono2Domain, label: null},
  y: {domain: ssDomain, label: null},
  marks: [
    Plot.gridX(clono2Ticks, {stroke: GRID, strokeOpacity: 1}),
    Plot.gridY(ssTicks, {stroke: GRID, strokeOpacity: 1}),
    Plot.dot(ptsB, {x: "x", y: "y", r: 2.5, fill: "#ff0000", stroke: null}),
    Plot.line(fitLine, {x: "x", y: "y", stroke: "#000", strokeWidth: 3}),
    Plot.line(oneLine, {x: "x", y: "y", stroke: "#000", strokeWidth: 2, strokeDasharray: "8,5"}),
    Plot.ruleX(clono2Domain, {stroke: INK}),
    Plot.ruleY(ssDomain, {stroke: INK}),
    ...xTicks(clono2Ticks, phB, INK),
    yTicksLeft(ssTicks, INK),
    yTicksRight(ssTicks, INK),
    Plot.axisX({ticks: clono2Ticks, tickSize: 0, tickPadding: 18, fontSize: TICK_FS, fill: INK, label: null}),
    Plot.axisY({ticks: ssTicks, tickSize: 0, tickPadding: 11, fontSize: TICK_FS, fill: INK, label: null})
  ]
});

// ---- rich text labels (subscripts / superscripts) ----
function richText(svg, {x, y, rotate = 0, anchor = "middle", size = 25, fill = INK, parts}) {
  const t = d3.select(svg).append("text")
    .attr("transform", `translate(${x},${y}) rotate(${rotate})`)
    .attr("text-anchor", anchor).attr("font-family", FONT)
    .attr("font-size", size).attr("fill", fill);
  let shift = 0;
  for (const p of parts) {
    const s = t.append("tspan").text(p.t);
    let target = 0;
    if (p.sub) { s.attr("font-size", size * 0.7); target = size * 0.28; }
    if (p.sup) { s.attr("font-size", size * 0.7); target = -size * 0.45; }
    if (target !== shift) { s.attr("dy", target - shift); shift = target; }
  }
  return t;
}

richText(svgA, {x: 40, y: 184, rotate: -90, parts: [{t: "ClO (ppt)"}]});
richText(svgA, {x: 309, y: 380, parts: [{t: "SZA (°)"}]});
richText(svgA, {x: 111, y: 75, anchor: "start", size: 22, parts: [{t: "(a)"}]});
richText(svgJ, {x: 573, y: 184, rotate: -90, fill: RED, parts: [{t: "J ClONO"}, {t: "2", sub: true}, {t: " (s"}, {t: "-1", sup: true}, {t: ")"}]});
richText(svgJ, {x: 517, y: 38, anchor: "start", size: 24, fill: RED, parts: [{t: "×10"}, {t: "-5", sup: true}]});

richText(svgB, {x: 39, y: 148, rotate: -90, parts: [{t: "ClONO"}, {t: "2", sub: true}, {t: "-ss (ppt)"}]});
richText(svgB, {x: 309, y: 345, parts: [{t: "ClONO"}, {t: "2", sub: true}, {t: " (ppt)"}]});
richText(svgB, {x: 111, y: 38, anchor: "start", size: 22, parts: [{t: "(b)"}]});

// ---- legend (panel b) ----
const lg = d3.select(svgB).append("g")
  .attr("font-family", FONT).attr("font-size", 20).attr("text-anchor", "start").style("fill", INK);
lg.append("rect").attr("x", 328.5).attr("y", 184.5).attr("width", 173).attr("height", 88)
  .style("fill", "#ffffff").style("fill-opacity", 1).style("stroke", INK).style("stroke-width", 1);
lg.append("circle").attr("cx", 359).attr("cy", 200).attr("r", 2.6).style("fill", "#ff0000");
lg.append("text").attr("x", 390).attr("y", 210).attr("text-anchor", "start").text("SZA≤75°");
lg.append("line").attr("x1", 335).attr("x2", 385).attr("y1", 228).attr("y2", 228)
  .style("stroke", "#000").style("stroke-width", 3);
lg.append("text").attr("x", 390).attr("y", 236).attr("text-anchor", "start").text("fit (m=1.21)");
lg.append("line").attr("x1", 335).attr("x2", 386).attr("y1", 256).attr("y2", 256)
  .style("stroke", "#000").style("stroke-width", 2).style("stroke-dasharray", "8,5");
lg.append("text").attr("x", 390).attr("y", 263).attr("text-anchor", "start").text("1:1 line");

const root = document.getElementById("chart");
root.appendChild(svgA);
root.appendChild(svgJ);
root.appendChild(svgB);
</script>
</body>
</html>
